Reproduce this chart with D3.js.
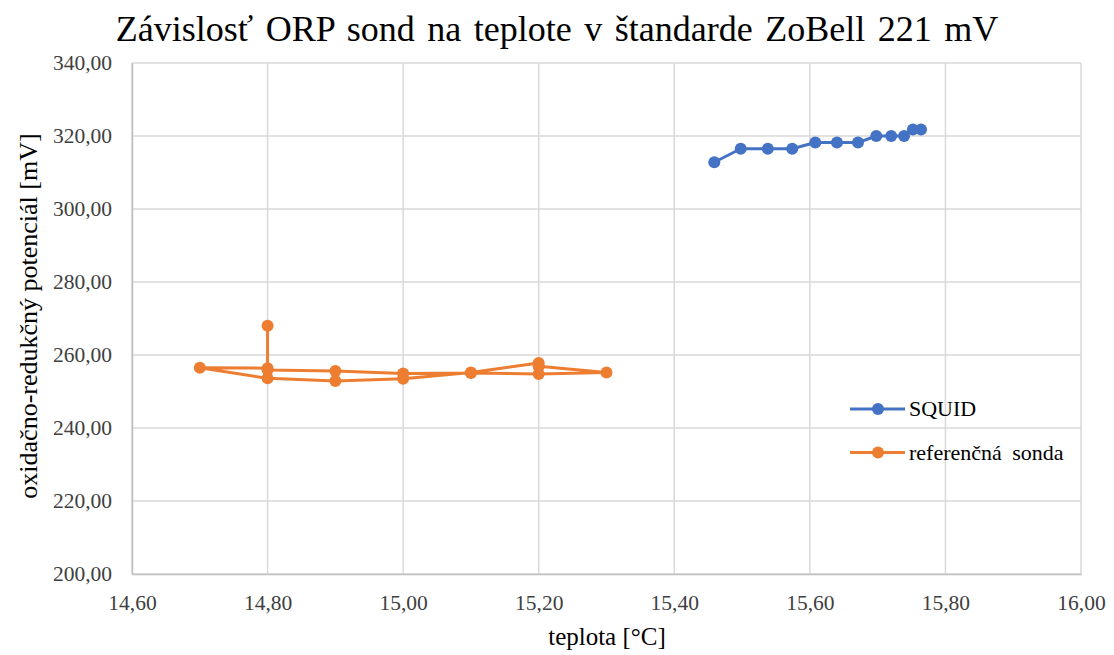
<!DOCTYPE html>
<html>
<head>
  <meta charset="UTF-8">
  <title>Závislosť ORP sond na teplote</title>
  <style>
    body, html { margin: 0; padding: 0; background: #fff; }
  </style>
</head>
<body>
  <script src="https://d3js.org/d3.v7.min.js"></script>
  <script>
    // SQUID probe
    const squidT = [15.459, 15.498, 15.538, 15.574, 15.608, 15.640, 15.671, 15.698, 15.720, 15.739, 15.752, 15.764];
    const squidOrp = [312.8, 316.5, 316.5, 316.5, 318.2, 318.2, 318.2, 320.0, 320.0, 320.0, 321.8, 321.8];

    // reference probe (in measuring order)
    const refT = [14.80, 14.80, 14.70, 14.80, 14.90, 15.00, 15.10, 15.20, 15.20, 15.30, 15.20, 15.10, 15.00, 14.90, 14.80];
    const refOrp = [268.0, 256.4, 256.5, 253.6, 252.9, 253.5, 255.2, 257.8, 256.9, 255.2, 254.8, 255.1, 254.9, 255.6, 255.9];

    const xTicks = [14.6, 14.8, 15.0, 15.2, 15.4, 15.6, 15.8, 16.0];
    const yTicks = [200, 220, 240, 260, 280, 300, 320, 340];

    const width = 1114, height = 655;
    const margin = { top: 63, right: 33, bottom: 81, left: 132 };
    const FONT = 'Liberation Serif';

    const svg = d3.select('body').append('svg')
      .attr('width', width)
      .attr('height', height);

    const x = d3.scaleLinear().domain([14.6, 16.0]).range([margin.left, width - margin.right]);
    const y = d3.scaleLinear().domain([200, 340]).range([height - margin.bottom, margin.top]);

    const fmt = v => d3.format('.2f')(v).replace('.', ',');

    // gridlines
    svg.append('g').selectAll('line').data(yTicks).enter().append('line')
      .attr('x1', x(14.6)).attr('x2', x(16.0))
      .attr('y1', d => y(d)).attr('y2', d => y(d))
      .attr('stroke', '#d9d9d9').attr('stroke-width', 1.5);
    svg.append('g').selectAll('line').data(xTicks).enter().append('line')
      .attr('y1', y(200)).attr('y2', y(340))
      .attr('x1', d => x(d)).attr('x2', d => x(d))
      .attr('stroke', '#d9d9d9').attr('stroke-width', 1.5);

    // axes
    const xAxis = svg.append('g')
      .attr('transform', `translate(0,${y(200)})`)
      .call(d3.axisBottom(x).tickValues(xTicks).tickFormat(fmt).tickSize(0).tickPadding(21));
    const yAxis = svg.append('g')
      .attr('transform', `translate(${x(14.6)},0)`)
      .call(d3.axisLeft(y).tickValues(yTicks).tickFormat(fmt).tickSize(0).tickPadding(20));
    [xAxis, yAxis].forEach(a => {
      a.attr('font-family', null).attr('font-size', null);
      a.select('.domain').attr('stroke', '#bfbfbf').attr('stroke-width', 1.5);
      a.selectAll('text')
        .attr('font-family', FONT)
        .attr('font-size', 21.5)
        .attr('fill', '#404040');
    });

    const line = d3.line().x(d => x(d[0])).y(d => y(d[1]));

    const series = [
      { name: 'SQUID', color: '#4472c4', data: d3.zip(squidT, squidOrp) },
      { name: 'referenčná sonda', color: '#ed7d31', data: d3.zip(refT, refOrp) }
    ];

    series.forEach(s => {
      svg.append('path')
        .attr('d', line(s.data))
        .attr('fill', 'none')
        .attr('stroke', s.color)
        .attr('stroke-width', 3)
        .attr('stroke-linejoin', 'round');
      svg.append('g').selectAll('circle').data(s.data).enter().append('circle')
        .attr('cx', d => x(d[0])).attr('cy', d => y(d[1]))
        .attr('r', 6).attr('fill', s.color);
    });

    // title
    svg.append('text')
      .attr('x', 557).attr('y', 41)
      .attr('text-anchor', 'middle')
      .attr('font-family', FONT)
      .attr('font-size', 36)
      .attr('word-spacing', 3.5)
      .attr('fill', '#000')
      .text('Závislosť ORP sond na teplote v štandarde ZoBell 221 mV');

    // axis titles
    svg.append('text')
      .attr('x', 607).attr('y', 645)
      .attr('text-anchor', 'middle')
      .attr('font-family', FONT)
      .attr('font-size', 25)
      .attr('fill', '#000')
      .text('teplota [°C]');
    svg.append('text')
      .attr('transform', 'translate(37,316) rotate(-90)')
      .attr('text-anchor', 'middle')
      .attr('font-family', FONT)
      .attr('font-size', 26)
      .attr('fill', '#000')
      .text('oxidačno-redukčný potenciál [mV]');

    // legend
    const legend = svg.append('g');
    series.forEach((s, i) => {
      const ly = 409 + i * 43.5;
      legend.append('line')
        .attr('x1', 850).attr('x2', 905).attr('y1', ly).attr('y2', ly)
        .attr('stroke', s.color).attr('stroke-width', 3);
      legend.append('circle')
        .attr('cx', 878).attr('cy', ly).attr('r', 6).attr('fill', s.color);
      legend.append('text')
        .attr('x', 909).attr('y', ly + 7)
        .attr('font-family', FONT)
        .attr('font-size', 22)
        .attr('fill', '#000')
        .attr('word-spacing', 5)
        .text(s.name);
    });
  </script>
</body>
</html>
